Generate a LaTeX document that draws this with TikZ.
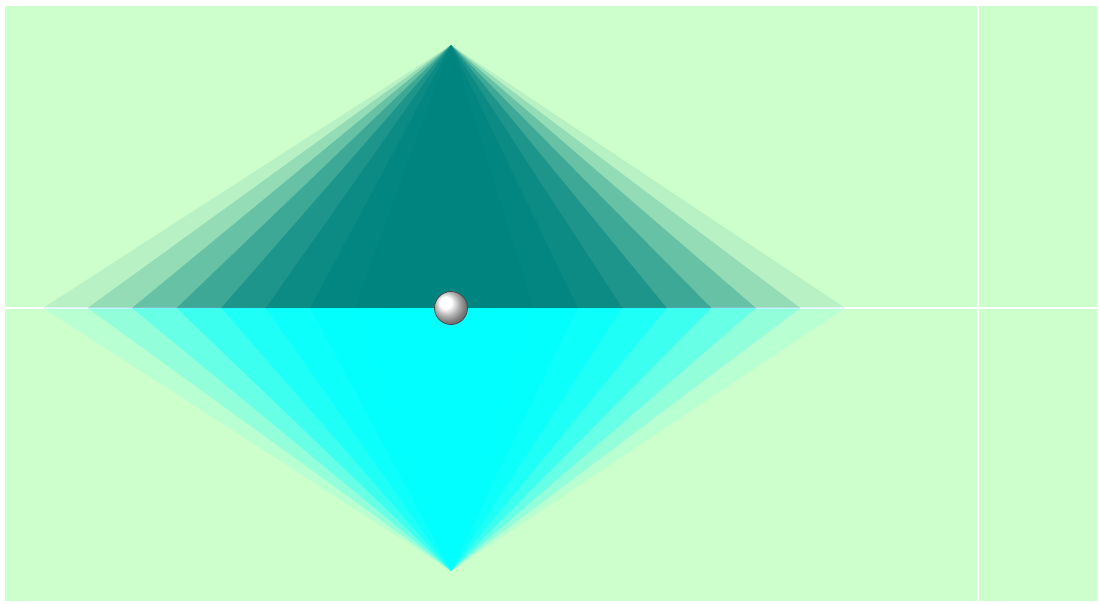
\documentclass[tikz,border=0pt]{standalone}
\usepackage{tikz}
\usetikzlibrary{calc}
\definecolor{mint}{HTML}{CCFFCC}
\definecolor{deepteal}{HTML}{008480}
\definecolor{aqua}{HTML}{00FFFF}
\tikzset{gridline/.style={white,line width=1.5pt},pearl/.style={circle,inner sep=0pt,minimum size=33pt,shading=ball,ball color=white,draw=gray!60!black,line width=.8pt}}

\begin{document}
\begin{tikzpicture}[x=1pt,y=-1pt]
\useasboundingbox (0,0) rectangle (1099,603);
\fill[mint] (5,6) rectangle (1097,601);
\draw[gridline] (5,308)--(1097,308);
\draw[gridline] (978,6)--(978,601);
\coordinate (apexT) at (451,45);
\coordinate (apexB) at (451,571);
\foreach \i in {0,...,8}{
  \pgfmathsetmacro\w{401-44.55*\i}
  \pgfmathsetmacro\o{(\i+1)/10}
  \fill[deepteal,fill opacity=\o] (apexT)--(444-\w,308)--(444+\w,308)--cycle;
  \fill[aqua,fill opacity=\o] (apexB)--(444-\w,308)--(444+\w,308)--cycle;
}
\node[pearl] (ball) at (451,308) {};
\end{tikzpicture}
\end{document}
